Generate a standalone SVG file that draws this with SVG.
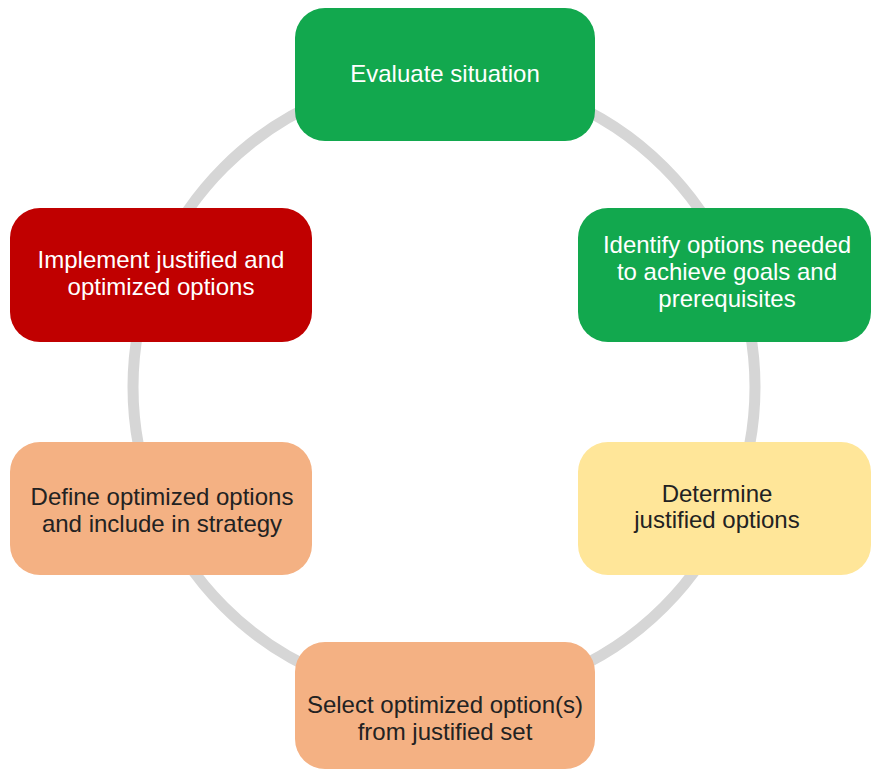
<svg xmlns="http://www.w3.org/2000/svg" width="871" height="774" viewBox="0 0 871 774">
<style>
.ring{fill:none;stroke:#d6d6d6;stroke-width:11}
.box{stroke:none}
.t{font-family:"Liberation Sans",Arial,sans-serif;font-size:24px;text-anchor:middle}
.w{fill:#ffffff}
.d{fill:#222222}
</style>
<rect width="871" height="774" fill="#ffffff"/>
<g id="connectors">
<circle class="ring" cx="444" cy="387" r="311"/>
</g>
<g id="evaluate">
<rect class="box" x="295" y="8" width="300" height="133" rx="30" fill="#12a84e"/>
<text class="t w" x="445" y="82">Evaluate situation</text>
</g>
<g id="identify">
<rect class="box" x="578" y="208" width="293" height="134" rx="30" fill="#12a84e"/>
<text class="t w" x="727" y="253">Identify options needed</text>
<text class="t w" x="727" y="280">to achieve goals and</text>
<text class="t w" x="727" y="307">prerequisites</text>
</g>
<g id="implement">
<rect class="box" x="10" y="208" width="302" height="134" rx="30" fill="#c00000"/>
<text class="t w" x="161" y="268">Implement justified and</text>
<text class="t w" x="161" y="295">optimized options</text>
</g>
<g id="determine">
<rect class="box" x="578" y="442" width="293" height="133" rx="30" fill="#ffe699"/>
<text class="t d" x="717" y="502">Determine</text>
<text class="t d" x="717" y="528">justified options</text>
</g>
<g id="define">
<rect class="box" x="10" y="442" width="302" height="133" rx="30" fill="#f4b183"/>
<text class="t d" x="162" y="505">Define optimized options</text>
<text class="t d" x="162" y="532">and include in strategy</text>
</g>
<g id="select">
<rect class="box" x="295" y="642" width="300" height="127" rx="30" fill="#f4b183"/>
<text class="t d" x="445" y="713">Select optimized option(s)</text>
<text class="t d" x="445" y="740">from justified set</text>
</g>
</svg>
